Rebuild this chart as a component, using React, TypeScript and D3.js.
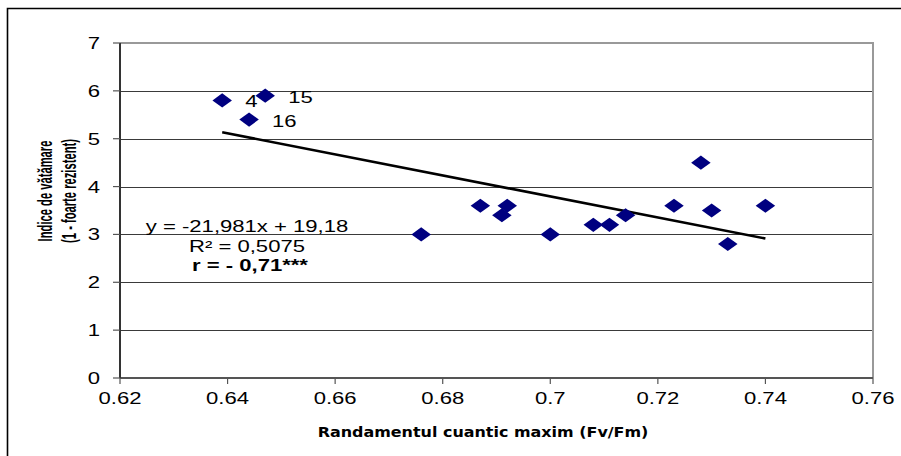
import React, { useEffect, useRef } from 'react';
import * as d3 from 'd3';

const W = 901;
const H = 456;

// Randamentul cuantic maxim (Fv/Fm)
const fvfm = [0.639, 0.647, 0.644, 0.676, 0.687, 0.691, 0.692, 0.700, 0.708, 0.711, 0.714, 0.723, 0.728, 0.730, 0.733, 0.740];
// Indice de vatamare
const damage = [5.8, 5.9, 5.4, 3.0, 3.6, 3.4, 3.6, 3.0, 3.2, 3.2, 3.4, 3.6, 4.5, 3.5, 2.8, 3.6];
const pointLabels = ['4', '15', '16', '', '', '', '', '', '', '', '', '', '', '', '', ''];

const xTicks = [0.62, 0.64, 0.66, 0.68, 0.7, 0.72, 0.74, 0.76];
const yTicks = [0, 1, 2, 3, 4, 5, 6, 7];

const slope = -21.981;
const intercept = 19.18;
const eqLines = ['y = -21,981x + 19,18', 'R² = 0,5075', 'r = - 0,71***'];

const SX = 1.38; // the picture is stretched horizontally
const font = 'Liberation Sans, Arial, sans-serif';

const draw = (ref) => {
	const svg = d3.select(ref.current);
	svg.selectAll('*').remove();

	const left = 120;
	const right = 873;
	const top = 43;
	const bottom = 378;

	const x = d3.scaleLinear().domain([0.62, 0.76]).range([left, right]);
	const y = d3.scaleLinear().domain([0, 7]).range([bottom, top]);

	const stretchText = (g, px, py, txt, size, anchor, weight) => g.append('text')
		.attr('transform', `translate(${ px },${ py }) scale(${ SX },1)`)
		.attr('font-family', font)
		.attr('font-size', size)
		.attr('font-weight', weight || 'normal')
		.attr('text-anchor', anchor)
		.attr('fill', '#000')
		.text(txt);

	// outer frame (top and left only visible)
	svg.append('path')
		.attr('d', `M7.5,${ H } V8.5 H${ W }`)
		.attr('fill', 'none')
		.attr('stroke', '#000')
		.attr('stroke-width', 1.6);

	// gridlines
	svg.append('g')
		.selectAll('line')
		.data(yTicks.filter((t) => t > 0 && t < 7))
		.join('line')
		.attr('x1', left)
		.attr('x2', right)
		.attr('y1', (d) => Math.round(y(d)) + 0.5)
		.attr('y2', (d) => Math.round(y(d)) + 0.5)
		.attr('stroke', '#3a3a3a')
		.attr('stroke-width', 1);

	// plot border top/right
	svg.append('path')
		.attr('d', `M${ left },${ top } H${ right } V${ bottom }`)
		.attr('fill', 'none')
		.attr('stroke', '#999')
		.attr('stroke-width', 2);

	// axes
	svg.append('line')
		.attr('x1', left).attr('x2', right)
		.attr('y1', bottom).attr('y2', bottom)
		.attr('stroke', '#555')
		.attr('stroke-width', 2);
	svg.append('line')
		.attr('x1', left).attr('x2', left)
		.attr('y1', top).attr('y2', bottom)
		.attr('stroke', '#333')
		.attr('stroke-width', 2);

	// ticks
	svg.append('g')
		.selectAll('line')
		.data(xTicks)
		.join('line')
		.attr('x1', (d) => x(d)).attr('x2', (d) => x(d))
		.attr('y1', bottom).attr('y2', bottom + 6)
		.attr('stroke', '#555')
		.attr('stroke-width', 1.2);
	svg.append('g')
		.selectAll('line')
		.data(yTicks)
		.join('line')
		.attr('x1', left - 7).attr('x2', left)
		.attr('y1', (d) => y(d)).attr('y2', (d) => y(d))
		.attr('stroke', '#555')
		.attr('stroke-width', 1.2);

	const labels = svg.append('g');

	xTicks.forEach((t) => stretchText(labels, x(t), bottom + 26, String(t), 16, 'middle'));
	yTicks.forEach((t) => stretchText(labels, left - 20, y(t) + 6, String(t), 16, 'end'));

	// trend line
	const [xmin, xmax] = d3.extent(fvfm);

	svg.append('line')
		.attr('x1', x(xmin)).attr('y1', y(slope * xmin + intercept))
		.attr('x2', x(xmax)).attr('y2', y(slope * xmax + intercept))
		.attr('stroke', '#000')
		.attr('stroke-width', 2.6);

	// markers
	const diamond = d3.symbol().type(d3.symbolSquare).size(100);

	svg.append('g')
		.selectAll('path')
		.data(fvfm)
		.join('path')
		.attr('d', diamond)
		.attr('transform', (d, i) => `translate(${ x(d) },${ y(damage[i]) }) scale(${ SX },1) rotate(45)`)
		.attr('fill', '#000080');

	pointLabels.forEach((lab, i) => {
		if (lab) {
			stretchText(labels, x(fvfm[i]) + 23, y(damage[i]) + 7, lab, 16, 'start');
		}
	});

	// regression text
	eqLines.forEach((line, i) => stretchText(labels, 247 + (i === 2 ? 3 : 0), 232 + (i * 19.5), line, 16, 'middle', i === 2 ? 'bold' : 'normal'));

	// axis titles
	svg.append('text')
		.attr('transform', `translate(483,437) scale(1.1,1)`)
		.attr('font-family', 'DejaVu Sans, Verdana, sans-serif')
		.attr('font-size', 14.5)
		.attr('font-weight', 'bold')
		.attr('text-anchor', 'middle')
		.text('Randamentul cuantic maxim (Fv/Fm)');

	const yTitle = svg.append('g')
		.attr('transform', 'translate(0,191)');

	['Indice de vătămare', '(1 - foarte rezistent)'].forEach((line, i) => {
		yTitle.append('text')
			.attr('transform', `translate(${ 52 + (i * 24) },0) rotate(-90) scale(0.8,1.4)`)
			.attr('font-family', font)
			.attr('font-size', 14)
			.attr('font-weight', 'bold')
			.attr('text-anchor', 'middle')
			.text(line);
	});
};

const App = () => {
	const ref = useRef(null);

	useEffect(() => draw(ref), []);

	return (
		<svg
			ref={ ref }
			width={ W }
			height={ H }
			style={{ position: 'absolute', left: 0, top: 0, background: '#fff' }}
		/>
	);
};

export default App;
